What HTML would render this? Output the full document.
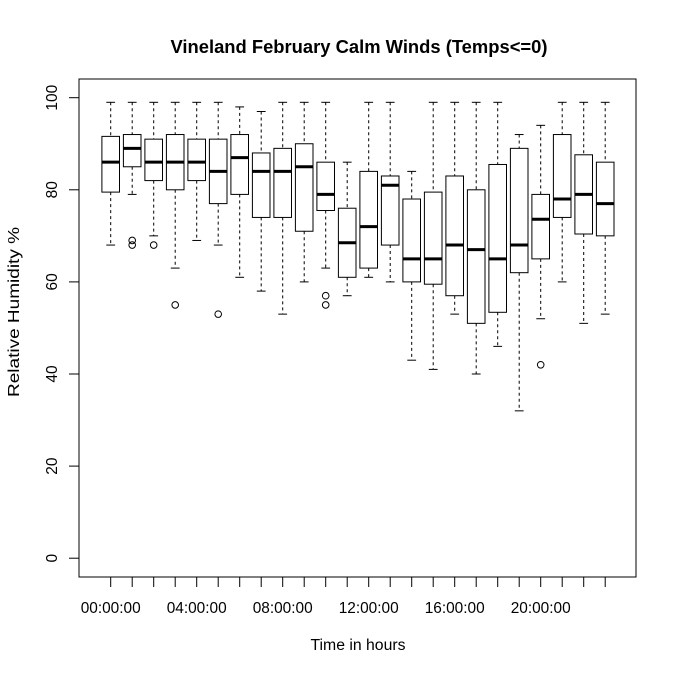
<!DOCTYPE html>
<html><head><meta charset="utf-8"><style>
html,body{margin:0;padding:0;background:#fff;}
svg{display:block;font-family:"Liberation Sans",Arial,sans-serif;}
</style></head><body>
<svg id="chart" width="677" height="676" viewBox="0 0 677 676" xmlns="http://www.w3.org/2000/svg">
<rect width="677" height="676" fill="#fff"/>
<text x="359" y="53" text-anchor="middle" font-size="18" font-weight="bold" textLength="377" lengthAdjust="spacingAndGlyphs">Vineland February Calm Winds (Temps&lt;=0)</text>
<rect x="79" y="79" width="557" height="498" fill="none" stroke="#000" stroke-width="1"/>
<text x="358" y="650" text-anchor="middle" font-size="15.5" textLength="95" lengthAdjust="spacingAndGlyphs">Time in hours</text>
<text transform="translate(19,312) rotate(-90)" text-anchor="middle" font-size="15.5" textLength="170" lengthAdjust="spacingAndGlyphs">Relative Humidity %</text>
<g id="axes"></g>
<g id="boxes"></g>
</svg>
<script>
const categories = ["00:00:00","01:00:00","02:00:00","03:00:00","04:00:00","05:00:00","06:00:00","07:00:00","08:00:00","09:00:00","10:00:00","11:00:00","12:00:00","13:00:00","14:00:00","15:00:00","16:00:00","17:00:00","18:00:00","19:00:00","20:00:00","21:00:00","22:00:00","23:00:00"];
const lowerWhisker = [68,79,70,63,69,68,61,58,53,60,63,57,61,60,43,41,53,40,46,32,52,60,51,53];
const q1Values     = [79.5,85,82,80,82,77,79,74,74,71,75.5,61,63,68,60,59.5,57,51,53.4,62,65,74,70.4,70];
const medianValues = [86,89,86,86,86,84,87,84,84,85,79,68.5,72,81,65,65,68,67,65,68,73.6,78,79,77];
const q3Values     = [91.6,92,91,92,91,91,92,88,89,90,86,76,84,83,78,79.5,83,80,85.5,89,79,92,87.6,86];
const upperWhisker = [99,99,99,99,99,99,98,97,99,99,99,86,99,99,84,99,99,99,99,92,94,99,99,99];
const outliers = [[],[69,68],[68],[55],[],[53],[],[],[],[],[57,55],[],[],[],[],[],[],[],[],[],[42],[],[],[]];
const yTicks = [0,20,40,60,80,100];
const xLabelEvery = 4;

const NS="http://www.w3.org/2000/svg";
const x0=110.7, dx=21.5;
function xs(i){return x0+i*dx;}
function ys(v){return 97.7+(100-v)*4.605;}
function mk(tag,attrs,parent){const e=document.createElementNS(NS,tag);for(const k in attrs)e.setAttribute(k,attrs[k]);parent.appendChild(e);return e;}
const axes=document.getElementById('axes'), boxes=document.getElementById('boxes');

yTicks.forEach(t=>{
  const y=ys(t);
  const tk=mk('line',{x1:69,x2:79,y1:y,y2:y,stroke:'#000'},axes);
  
  
  const lb=mk('text',{transform:`translate(57,${y}) rotate(-90)`,'text-anchor':'middle','font-size':15.5},axes);
  
  
  lb.textContent=t;
});
categories.forEach((c,i)=>{
  const x=xs(i);
  const tk=mk('line',{x1:x,x2:x,y1:577,y2:587,stroke:'#000'},axes);
  
  
  if(i%xLabelEvery===0){
    const lb=mk('text',{x:x,y:613,'text-anchor':'middle','font-size':15.5,textLength:60,lengthAdjust:'spacingAndGlyphs'},axes);
    
    
    lb.textContent=c;
  }
});
const hw=8.8, cw=4.4;
categories.forEach((c,i)=>{
  const x=xs(i);
  const g=mk('g',{},boxes);
  
  
  mk('line',{x1:x,x2:x,y1:ys(upperWhisker[i]),y2:ys(q3Values[i]),stroke:'#000','stroke-dasharray':'3,3'},g);
  mk('line',{x1:x,x2:x,y1:ys(q1Values[i]),y2:ys(lowerWhisker[i]),stroke:'#000','stroke-dasharray':'3,3'},g);
  mk('line',{x1:x-cw,x2:x+cw,y1:ys(upperWhisker[i]),y2:ys(upperWhisker[i]),stroke:'#000'},g);
  mk('line',{x1:x-cw,x2:x+cw,y1:ys(lowerWhisker[i]),y2:ys(lowerWhisker[i]),stroke:'#000'},g);
  mk('rect',{x:x-hw,y:ys(q3Values[i]),width:2*hw,height:ys(q1Values[i])-ys(q3Values[i]),fill:'#fff',stroke:'#000'},g);
  mk('line',{x1:x-hw,x2:x+hw,y1:ys(medianValues[i]),y2:ys(medianValues[i]),stroke:'#000','stroke-width':3},g);
  outliers[i].forEach(o=>{
    const c2=mk('circle',{cx:x,cy:ys(o),r:3.3,fill:'none',stroke:'#000'},g);
    
    
  });
});
</script>
</body></html>
